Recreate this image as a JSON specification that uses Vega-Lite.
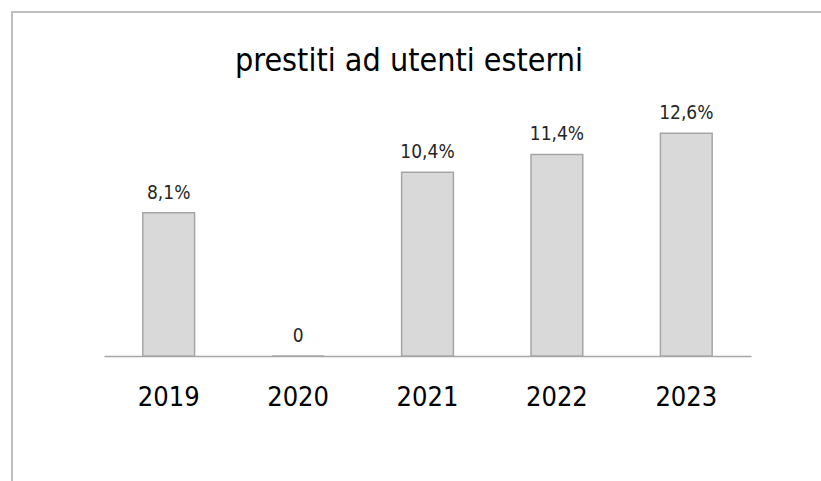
{
  "$schema": "https://vega.github.io/schema/vega-lite/v6.json",
  "autosize": "none",
  "width": 830,
  "height": 480,
  "padding": {"left": 12, "top": 12, "right": 0, "bottom": 0},
  "background": "white",
  "config": {"view": {"stroke": "#bfbfbf", "strokeWidth": 2}},
  "title": {
    "text": "prestiti ad utenti esterni",
    "font": "DejaVu Sans Condensed",
    "fontSize": 32,
    "fontWeight": "normal",
    "color": "#000000",
    "anchor": "middle",
    "baseline": "alphabetic",
    "dx": -18,
    "offset": -91
  },
  "data": {
    "values": [
      {"year": "2019", "value": 8.1, "label": "8,1%"},
      {"year": "2020", "value": 0, "label": "0"},
      {"year": "2021", "value": 10.4, "label": "10,4%"},
      {"year": "2022", "value": 11.4, "label": "11,4%"},
      {"year": "2023", "value": 12.6, "label": "12,6%"}
    ]
  },
  "encoding": {
    "x": {
      "field": "year",
      "type": "ordinal",
      "scale": {"range": [92, 739], "paddingInner": 0.6, "paddingOuter": 0.3},
      "axis": {
        "title": null,
        "orient": "bottom",
        "offset": -136,
        "ticks": false,
        "grid": false,
        "domainColor": "#a6a6a6",
        "domainWidth": 1.5,
        "labelFont": "DejaVu Sans Condensed",
        "labelFontSize": 27,
        "labelColor": "#000000",
        "labelPadding": 28,
        "labelAngle": 0
      }
    },
    "y": {
      "field": "value",
      "type": "quantitative",
      "scale": {"domain": [0, 19.46], "range": [344, 0], "nice": false, "zero": true},
      "axis": null
    }
  },
  "layer": [
    {
      "mark": {"type": "bar", "fill": "#d9d9d9", "stroke": "#a6a6a6", "strokeWidth": 1.5}
    },
    {
      "mark": {
        "type": "text",
        "font": "DejaVu Sans Condensed",
        "fontSize": 19,
        "color": "#262626",
        "baseline": "alphabetic",
        "dy": -14
      },
      "encoding": {"text": {"field": "label"}}
    }
  ]
}
